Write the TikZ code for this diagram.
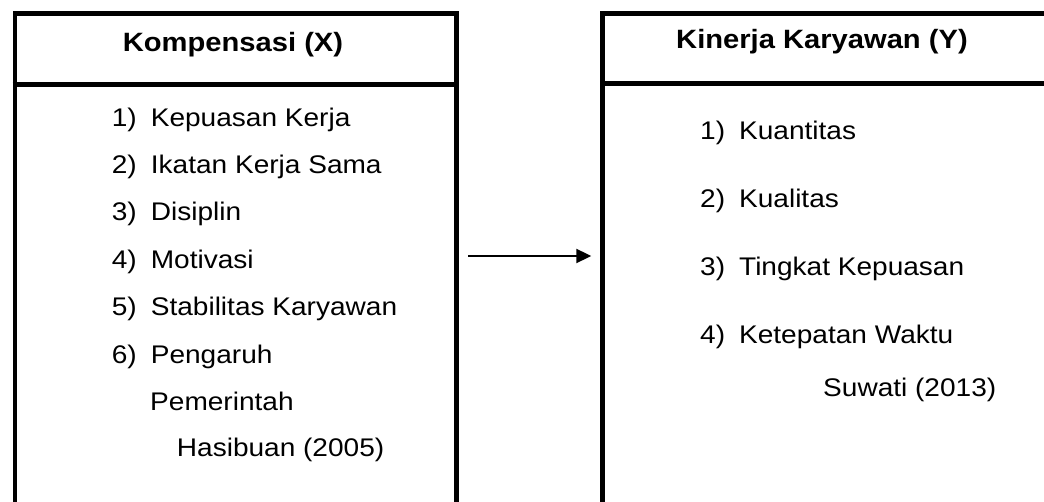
\documentclass[tikz,border=0pt]{standalone}
\usepackage{fontspec}
\setmainfont[FakeStretch=1.1]{Liberation Sans}
\usetikzlibrary{arrows.meta,calc}
\tikzset{
  framebox/.style={draw=black, line width=4.6pt, rectangle, anchor=north west, inner sep=0pt},
  title/.style={font=\fontsize{26.5}{30}\selectfont\bfseries, anchor=base, inner sep=0pt},
  item/.style={font=\fontsize{25.5}{30}\selectfont, anchor=base west, inner sep=0pt},
  link/.style={line width=2pt, -{Triangle[length=15pt,width=14pt]}}
}
\begin{document}
\begin{tikzpicture}[x=1pt,y=-1pt]
\useasboundingbox (0,0) rectangle (1044,502);
\fill[white] (0,0) rectangle (1044,502);
\begin{scope}
\clip (0,0) rectangle (1044,502);
% the two boxes run past the lower (and right) edge
\node[framebox, minimum width=441.5pt, minimum height=520pt] (kx) at (12.5,11.5) {};
\node[framebox, minimum width=460pt, minimum height=520pt] (ky) at (600,11) {};
\draw[line width=4.6pt] (kx.north west |- 0,84.5) -- (kx.north east |- 0,84.5);
\draw[line width=4.6pt] (ky.north west |- 0,83.5) -- (ky.north east |- 0,83.5);
\end{scope}

% left box: compensation
\node[title] (tx) at (233,52) {Kompensasi (X)};
\node[item] (x1) at (111.7,126.7) {1)\hspace{0.55em}Kepuasan Kerja};
\node[item] (x2) at (111.7,173.7) {2)\hspace{0.55em}Ikatan Kerja Sama};
\node[item] (x3) at (111.7,221) {3)\hspace{0.55em}Disiplin};
\node[item] (x4) at (111.7,268.3) {4)\hspace{0.55em}Motivasi};
\node[item] (x5) at (111.7,315.7) {5)\hspace{0.55em}Stabilitas Karyawan};
\node[item] (x6) at (111.7,363.3) {6)\hspace{0.55em}Pengaruh};
\node[item] (x6b) at (150,410) {Pemerintah};
\node[item] (xs) at (176.7,456.7) {Hasibuan (2005)};

% right box: employee performance
\node[title] (ty) at (822,48.5) {Kinerja Karyawan (Y)};
\node[item] (y1) at (700,140) {1)\hspace{0.55em}Kuantitas};
\node[item] (y2) at (700,207.8) {2)\hspace{0.55em}Kualitas};
\node[item] (y3) at (700,275.5) {3)\hspace{0.55em}Tingkat Kepuasan};
\node[item] (y4) at (700,343.3) {4)\hspace{0.55em}Ketepatan Waktu};
\node[item] (ys) at (823,396.7) {Suwati (2013)};

% influence arrow
\coordinate (ay) at (0,256);
\draw[link, shorten <=9.7pt, shorten >=8.7pt] (kx.east |- ay) -- (ky.west |- ay);
\end{tikzpicture}
\end{document}
